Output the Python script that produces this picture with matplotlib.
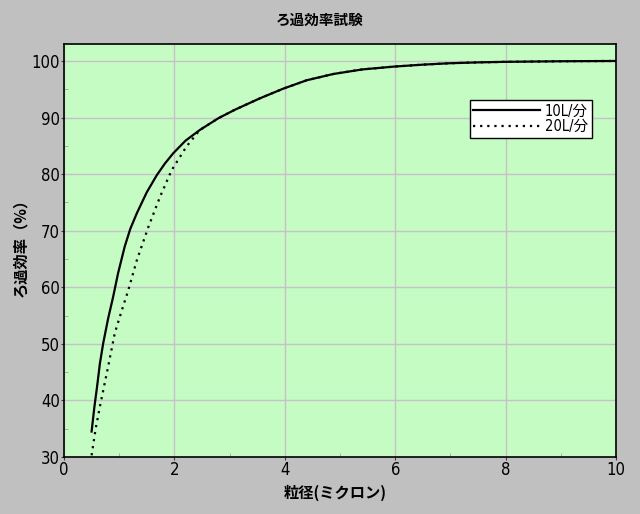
import matplotlib
matplotlib.use("Agg")
import matplotlib.pyplot as plt
from matplotlib.ticker import MultipleLocator
from matplotlib import font_manager as fm

plt.rcParams['font.family'] = ['Noto Sans CJK JP', 'DejaVu Sans']

title = "ろ過効率試験"
xlabel = "粒径(ミクロン)"
ylabel = "ろ過効率（%）"
series1_name = "10L/分"
series2_name = "20L/分"

x1 = [0.50, 0.55, 0.60, 0.65, 0.71, 0.80, 0.89, 0.98, 1.10, 1.20, 1.32, 1.50, 1.68, 1.83, 1.98, 2.20, 2.46, 2.80, 3.10, 3.37, 3.55, 3.97, 4.40, 4.88, 5.40, 5.97, 6.50, 6.99, 7.50, 8.02, 9.00, 10.0]
y1 = [34.5, 38.8, 42.5, 46.5, 50.1, 54.5, 58.3, 62.5, 67.2, 70.3, 73.1, 76.8, 79.8, 81.9, 83.7, 85.9, 87.8, 89.9, 91.4, 92.6, 93.4, 95.1, 96.6, 97.7, 98.5, 99.0, 99.35, 99.6, 99.75, 99.85, 99.95, 100.0]

x2 = [0.50, 0.57, 0.65, 0.80, 0.92, 1.05, 1.165, 1.32, 1.53, 1.74, 1.95, 2.22, 2.46, 2.80, 3.10, 3.37, 3.55, 3.97, 4.40, 4.88, 5.40, 5.97, 6.50, 6.99, 7.50, 8.02, 9.00, 10.0]
y2 = [30.3, 34.8, 38.9, 46.0, 51.9, 56.0, 59.5, 64.8, 70.7, 76.0, 80.7, 84.9, 87.8, 89.9, 91.4, 92.6, 93.4, 95.1, 96.6, 97.7, 98.5, 99.0, 99.35, 99.6, 99.75, 99.85, 99.95, 100.0]

xticks = [0, 2, 4, 6, 8, 10]
yticks = [30, 40, 50, 60, 70, 80, 90, 100]

names = {f.name for f in fm.fontManager.ttflist}
if 'Liberation Sans Narrow' in names:
    num_family = ['Liberation Sans Narrow', 'Noto Sans CJK JP']
    num_stretch = 'normal'
else:
    num_family = ['DejaVu Sans', 'Noto Sans CJK JP']
    num_stretch = 'condensed'

fig = plt.figure(figsize=(6.4, 5.14), dpi=100, facecolor='#c0c0c0')
ax = fig.add_axes([0.1, 0.1109, 0.8625, 0.8035])
ax.set_facecolor('#c4fcc4')

ax.plot(x1, y1, color='black', lw=1.6, label=series1_name)
ax.plot(x2, y2, color='black', lw=1.6, ls=(0, (1, 2.2)), label=series2_name)

ax.set_xlim(0, 10)
ax.set_ylim(30, 103)
ax.set_xticks(xticks)
ax.set_yticks(yticks)
ax.xaxis.set_minor_locator(MultipleLocator(1))
ax.yaxis.set_minor_locator(MultipleLocator(5))
ax.grid(True, which='major', color='#c8c0c8', lw=1)
ax.set_axisbelow(True)

ax.tick_params(which='major', length=2, direction='out', colors='#404040', labelsize=12, pad=1)
ax.tick_params(which='minor', length=3, direction='in', colors='#a0a0a0')
for lab in ax.get_xticklabels() + ax.get_yticklabels():
    lab.set_family(num_family)
    lab.set_stretch(num_stretch)
    lab.set_color('black')

for s in ax.spines.values():
    s.set_color('black')
    s.set_linewidth(1.2)

fig.text(0.5, 0.962, title, ha='center', va='center', fontsize=10.5, fontweight='bold')
fig.text(0.524, 0.042, xlabel, ha='center', va='center', fontsize=11, fontweight='bold')
fig.text(0.032, 0.525, ylabel, ha='center', va='center', fontsize=11, fontweight='bold', rotation=90)

leg = ax.legend(loc='upper left', bbox_to_anchor=(0.735, 0.865), frameon=True, fancybox=False,
                edgecolor='black', facecolor='white', framealpha=1, fontsize=10.5,
                markerfirst=True, handlelength=4.6, handletextpad=0.3, borderpad=0.25,
                labelspacing=0.05, borderaxespad=0)
leg.get_frame().set_linewidth(1)
for t in leg.get_texts():
    t.set_family(num_family)
    t.set_stretch(num_stretch)

fig.savefig('out.png', dpi=100, facecolor=fig.get_facecolor())
